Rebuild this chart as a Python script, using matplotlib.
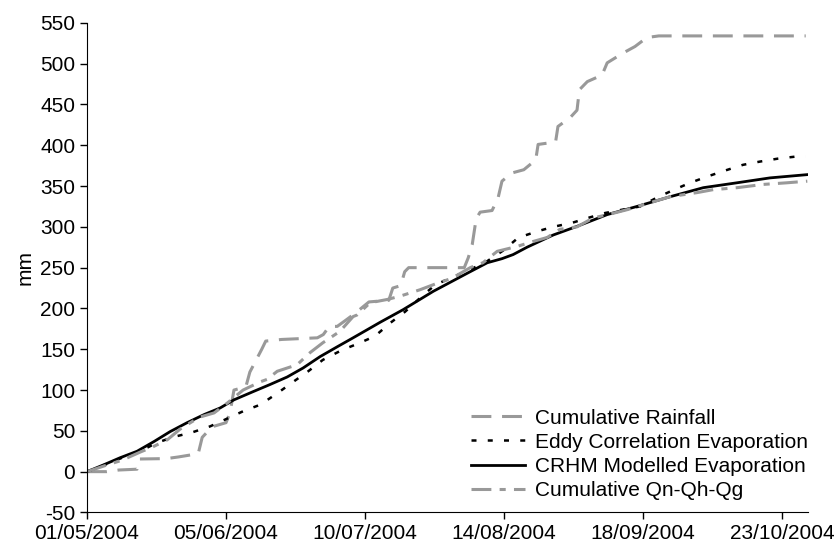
import numpy as np
import pandas as pd
import matplotlib
matplotlib.use("Agg")
import matplotlib.pyplot as plt
import matplotlib.dates as mdates

plt.rcParams['font.family'] = ['Liberation Sans', 'DejaVu Sans']
plt.rcParams['axes.unicode_minus'] = False

start = pd.Timestamp('2004-05-01')

# Cumulative rainfall (mm), days since 01/05/2004
rain_days = [0, 5, 8, 12.6, 13.2, 20, 23, 28, 29, 31.5, 35, 36, 37, 40, 41, 44, 45, 49,
             58, 59.5, 61, 63, 65, 67.5, 71, 76, 77, 79, 80, 81, 95, 96, 97, 98, 99,
             102, 103.5, 104.5, 107, 110, 113, 113.6, 118, 118.6, 121.7, 123.4, 124,
             126, 129.7, 131, 135, 138, 141, 144, 181]
rain_vals = [0, 0, 2, 3, 15.5, 16, 18, 22, 42, 55, 60, 72, 100, 104, 122, 150, 160, 162,
             164, 168, 178, 178, 185, 194, 208, 210, 225, 228, 245, 250, 250, 262, 278, 310, 318,
             320, 335, 356, 366, 370, 382, 401, 404, 423, 434, 443, 468,
             478, 486, 501, 513, 521, 532, 534, 534]

# Eddy correlation evaporation (mm)
eddy_days = [0, 5.8, 8.8, 13.4, 17.6, 22.2, 26.4, 31, 35.3, 39.3, 43.6, 47.9, 51.9,
             55.7, 59.4, 64.2, 68.3, 72.5, 76.3, 80.1, 83.9, 87.7, 91.9, 96.5, 100.8,
             104.8, 108.6, 113.4, 117.4, 122.2, 126.2, 130.5, 134.8, 139.3, 143.6,
             147.6, 151.9, 156.4, 160.7, 165.2, 169.5, 174, 178.3, 181]
eddy_vals = [0, 11, 17, 25, 35.5, 43, 48, 55.5, 65, 74, 82, 96, 110,
             123, 137, 149, 157, 166, 182, 196, 213, 229, 238, 247.6, 258,
             271, 286.7, 294.5, 300, 305, 311, 317, 321, 325, 336,
             345, 354, 362, 369, 376, 380, 383.6, 386, 386]

# CRHM modelled evaporation (mm)
crhm_days = [0, 4.3, 8.3, 12.6, 16.9, 20.9, 25.2, 29.5, 33.5, 37, 41.8, 46, 50.4, 54.4,
             58.7, 63, 67, 71.3, 73.8, 79.6, 87.2, 95.7, 100.8, 104.5, 107.3, 110.8,
             117.4, 123.4, 131, 138.5, 146.9, 155.2, 163.7, 172, 181.4]
crhm_vals = [0, 8.6, 17, 25, 37, 49, 60, 70, 78, 88, 98, 106.6, 116, 127,
             141, 153, 164, 176, 183, 198.5, 221, 243, 256, 261, 266, 275,
             290, 300.6, 315, 325, 337, 348, 354, 360, 364]

# Cumulative Qn-Qh-Qg (mm)
qn_days = [0, 4.3, 8.8, 13.4, 16.4, 20.2, 23.4, 26.7, 28.5, 32, 35.3, 39.3, 43.6, 45.3,
           47.9, 52.9, 56.2, 59.4, 63.7, 67, 68, 71.3, 75.6, 78.8, 83.9, 87.7, 91.9,
           96.5, 99.7, 103.3, 108.3, 112.3, 115.9, 119.1, 123.4, 127.5, 131.2, 136,
           141.8, 146.9, 153.7, 157.7, 163.7, 170.3, 176.3, 181.4]
qn_vals = [0, 7, 14, 24, 30, 39, 52, 62, 67, 72, 84, 100, 110, 113,
           123, 131, 146, 158, 172, 190, 192, 207, 211, 215, 223, 230, 237,
           250, 256, 270, 276, 282, 287, 297, 300, 311, 315, 321,
           329.6, 337, 342, 345.6, 348, 352, 354, 356]


def to_dates(days):
    return start + pd.to_timedelta(np.array(days), unit='D')


gray = '#999999'
fig = plt.figure(figsize=(8.37, 5.44), dpi=100)
ax = fig.add_axes([0.104, 0.058, 0.861, 0.900])

ax.plot(to_dates(rain_days), rain_vals, color=gray, lw=2.2, dashes=(6.5, 3.5),
        label='Cumulative Rainfall')
ax.plot(to_dates(eddy_days), eddy_vals, color='black', lw=1.8, dashes=(2, 4.5),
        label='Eddy Correlation Evaporation')
ax.plot(to_dates(crhm_days), crhm_vals, color='black', lw=2.0,
        label='CRHM Modelled Evaporation')
ax.plot(to_dates(qn_days), qn_vals, color=gray, lw=2.2, dashes=(6.5, 2.7, 2, 2.7),
        label='Cumulative Qn-Qh-Qg')

ax.set_ylim(-50, 550)
ax.set_yticks(np.arange(-50, 551, 50))
ax.set_xlim(start, start + pd.Timedelta(days=181.5))
ax.set_xticks(to_dates([0, 35, 70, 105, 140, 175]))
ax.xaxis.set_major_formatter(mdates.DateFormatter('%d/%m/%Y'))

for s in ['top', 'right']:
    ax.spines[s].set_visible(False)
ax.tick_params(axis='both', labelsize=15, length=5, width=1, direction='out')
ax.set_ylabel('mm', fontsize=15)

ax.legend(loc='lower right', bbox_to_anchor=(1.0, 0.025), frameon=False, fontsize=15,
          borderpad=0, borderaxespad=0, handlelength=2.6, handletextpad=0.45,
          labelspacing=0.25)

fig.savefig('out.png', dpi=100)
